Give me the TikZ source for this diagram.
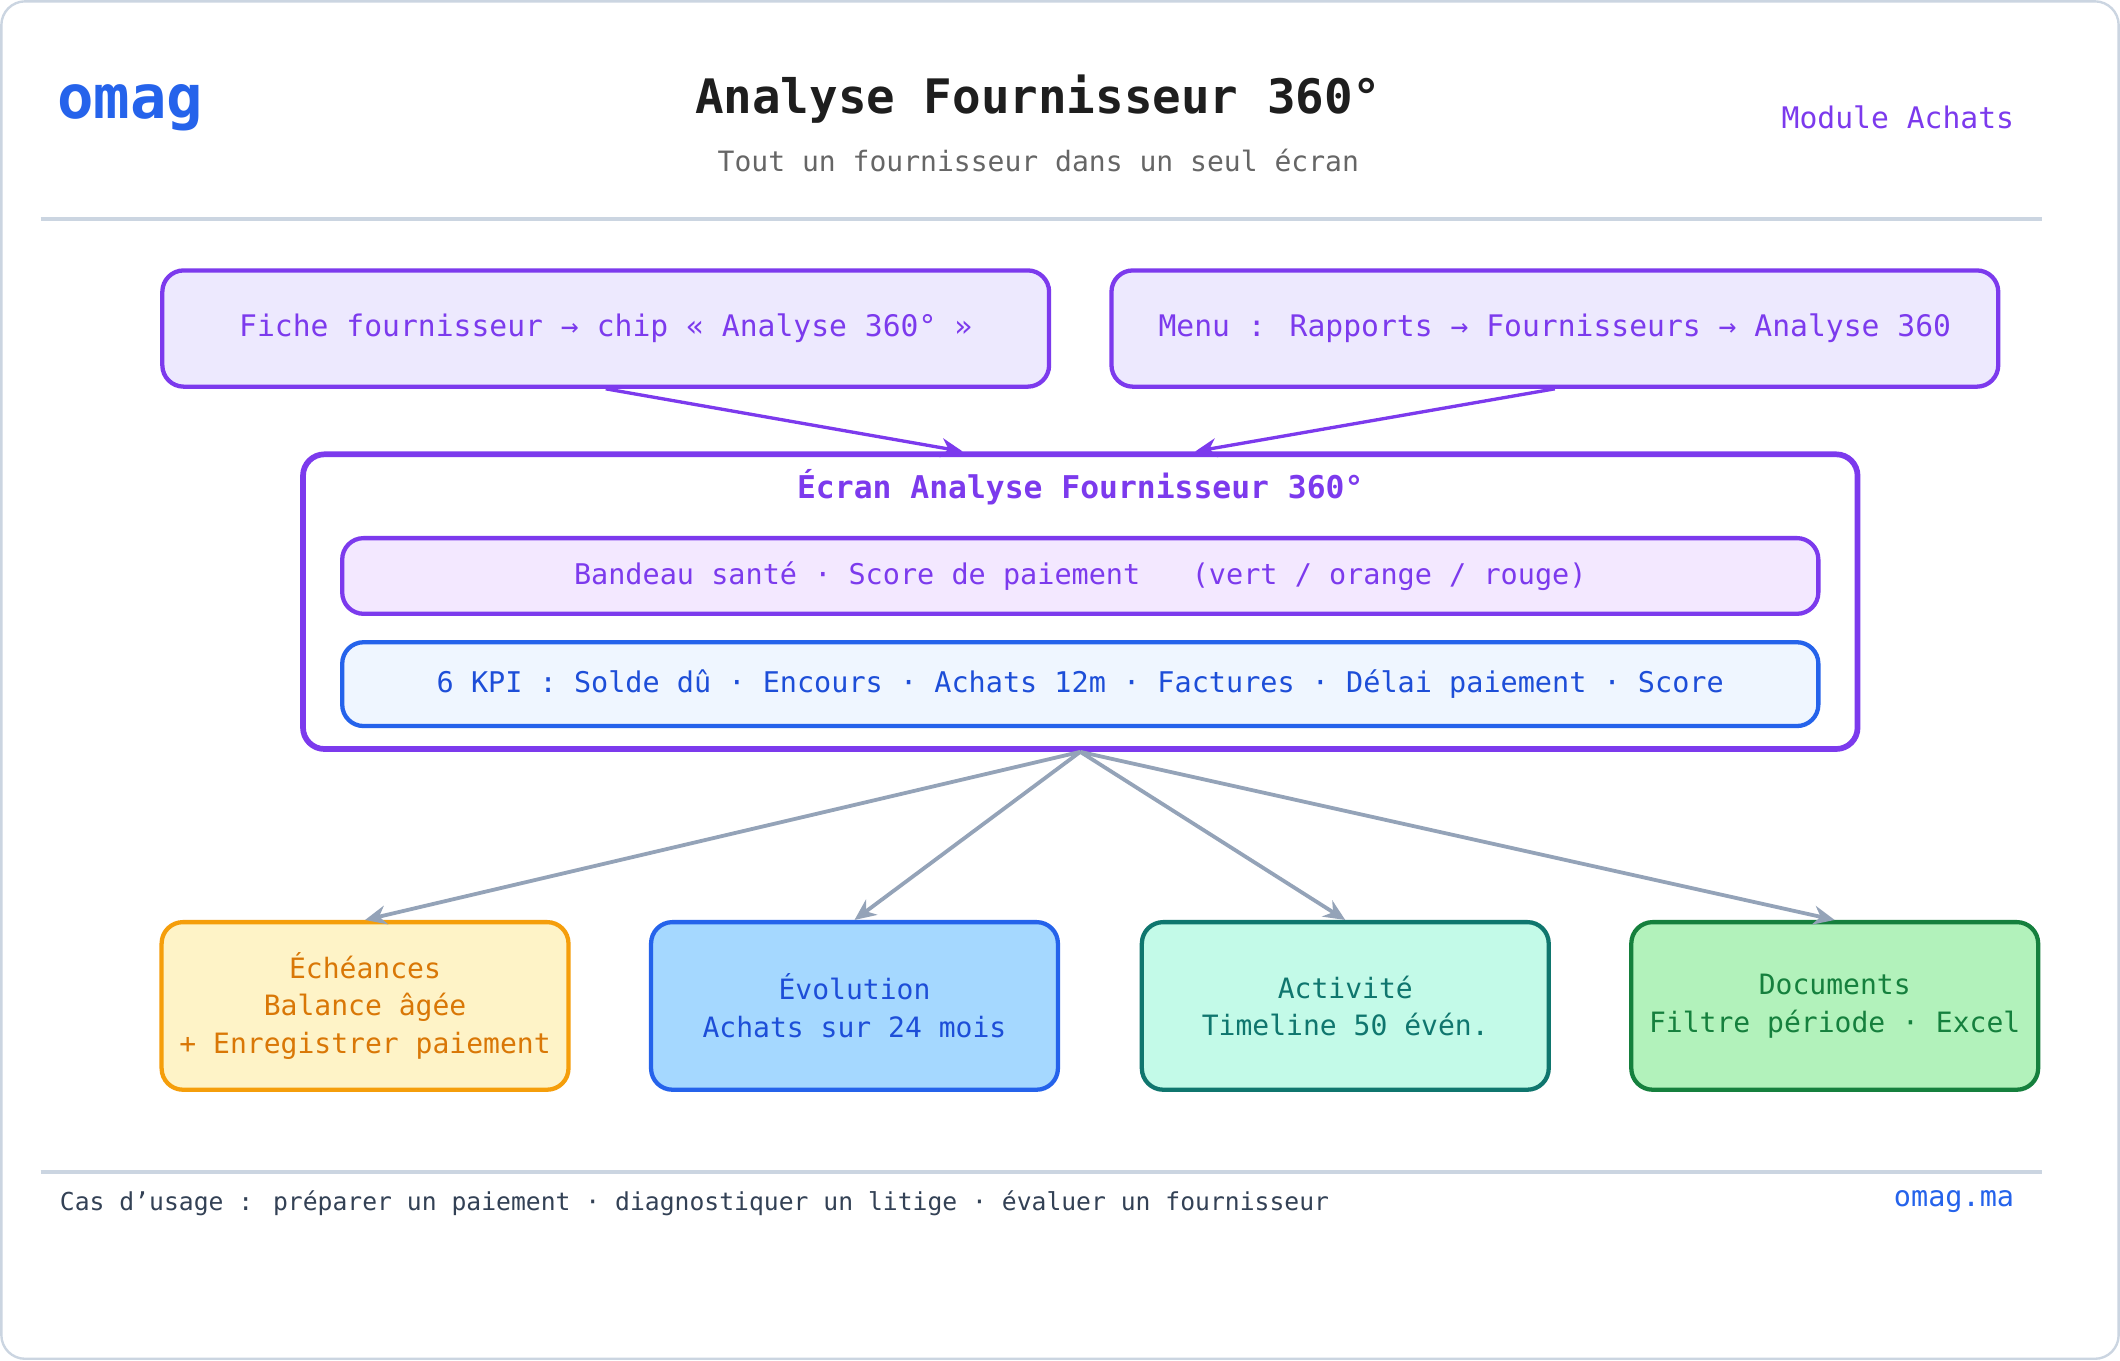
\documentclass[tikz,border=0pt]{standalone}
\usepackage{fontspec}
\setmainfont{DejaVu Sans Mono}
\usetikzlibrary{arrows.meta}
\definecolor{pur}{HTML}{7C3AED}
\definecolor{purfill}{HTML}{EDE9FE}
\definecolor{bandfill}{HTML}{F3E8FF}
\definecolor{blu}{HTML}{2563EB}
\definecolor{blutext}{HTML}{1D4ED8}
\definecolor{kpifill}{HTML}{EFF6FF}
\definecolor{grayline}{HTML}{CBD5E1}
\definecolor{arr}{HTML}{94A3B8}
\definecolor{ora}{HTML}{F59E0B}
\definecolor{oratext}{HTML}{D97706}
\definecolor{orafill}{HTML}{FEF3C7}
\definecolor{evofill}{HTML}{A5D8FF}
\definecolor{tea}{HTML}{0F766E}
\definecolor{teafill}{HTML}{C3FAE8}
\definecolor{gre}{HTML}{15803D}
\definecolor{grefill}{HTML}{B2F2BB}
\definecolor{dark}{HTML}{1E1E1E}
\definecolor{sub}{HTML}{666666}
\definecolor{foot}{HTML}{334155}
\tikzset{
  box/.style={draw, rounded corners=9pt, line width=1.8pt, align=center, inner sep=0pt},
  top/.style={box, draw=pur, fill=purfill, text=pur, minimum width=13.12cm, minimum height=1.72cm, font=\fontsize{12.5}{15}\selectfont},
  bot/.style={box, minimum width=6.02cm, minimum height=2.48cm, font=\fontsize{11.8}{15.9}\selectfont},
  a1/.style={-{Stealth[length=9pt,width=8pt]}, pur, line width=1.4pt},
  a2/.style={-{Stealth[length=9pt,width=8pt]}, arr, line width=1.6pt},
}
\begin{document}
\begin{tikzpicture}[x=0.02cm,y=-0.02cm]
\useasboundingbox (0,0) rectangle (1568,1006);
\draw[grayline, line width=1pt, rounded corners=10pt, fill=white] (1,1) rectangle (1567,1005);
\node[anchor=west, inner sep=0pt, text=blu, font=\fontsize{25.5}{30}\selectfont\bfseries] (logo) at (42,80) {omag};
\node[text=dark, font=\fontsize{20}{24}\selectfont\bfseries] (title) at (768,73) {Analyse Fournisseur 360°};
\node[text=sub, font=\fontsize{11.8}{14}\selectfont] (subt) at (768,119) {Tout un fournisseur dans un seul écran};
\node[anchor=east, inner sep=0pt, text=pur, font=\fontsize{12.5}{15}\selectfont] (mod) at (1490,87) {Module Achats};
\coordinate (h1) at (30,162); \coordinate (h2) at (1510,162);
\draw[grayline, line width=1.5pt] (h1) -- (h2);
\node[top] (f1) at (448,243) {Fiche fournisseur → chip « Analyse 360° »};
\node[top] (f2) at (1150,243) {Menu : Rapports → Fournisseurs → Analyse 360};
\node[box, draw=pur, fill=white, line width=2.4pt, minimum width=23cm, minimum height=4.36cm] (main) at (799,445) {};
\node[text=pur, font=\fontsize{13.2}{16}\selectfont\bfseries] (mt) at (799,360) {Écran Analyse Fournisseur 360°};
\node[box, draw=pur, fill=bandfill, text=pur, minimum width=21.84cm, minimum height=1.12cm, font=\fontsize{12}{14}\selectfont] (band) at (799,426) {Bandeau santé · Score de paiement \ \ (vert / orange / rouge)};
\node[box, draw=blu, fill=kpifill, text=blutext, minimum width=21.84cm, minimum height=1.24cm, font=\fontsize{12}{14}\selectfont] (kpi) at (799,506) {6 KPI : Solde dû · Encours · Achats 12m · Factures · Délai paiement · Score};
\draw[a1] (f1.south) -- ([xshift=-1.74cm]main.north);
\draw[a1] (f2.south) -- ([xshift=1.7cm]main.north);
\node[bot, draw=ora, fill=orafill, text=oratext] (b1) at (270,744) {Échéances\\Balance âgée\\+ Enregistrer paiement};
\node[bot, draw=blu, fill=evofill, text=blutext] (b2) at (632,744) {Évolution\\Achats sur 24 mois};
\node[bot, draw=tea, fill=teafill, text=tea] (b3) at (995,744) {Activité\\Timeline 50 évén.};
\node[bot, draw=gre, fill=grefill, text=gre] (b4) at (1357,744) {Documents\\Filtre période · Excel};
\foreach \b in {b1,b2,b3,b4} \draw[a2] (main.south) -- (\b.north);
\coordinate (l1) at (30,867); \coordinate (l2) at (1510,867);
\draw[grayline, line width=1.5pt] (l1) -- (l2);
\node[anchor=west, inner sep=0pt, text=foot, font=\fontsize{10.4}{13}\selectfont] (ft) at (44,890) {Cas d’usage : préparer un paiement · diagnostiquer un litige · évaluer un fournisseur};
\node[anchor=east, inner sep=0pt, text=blu, font=\fontsize{12}{14}\selectfont] (url) at (1490,889) {omag.ma};
\end{tikzpicture}
\end{document}
